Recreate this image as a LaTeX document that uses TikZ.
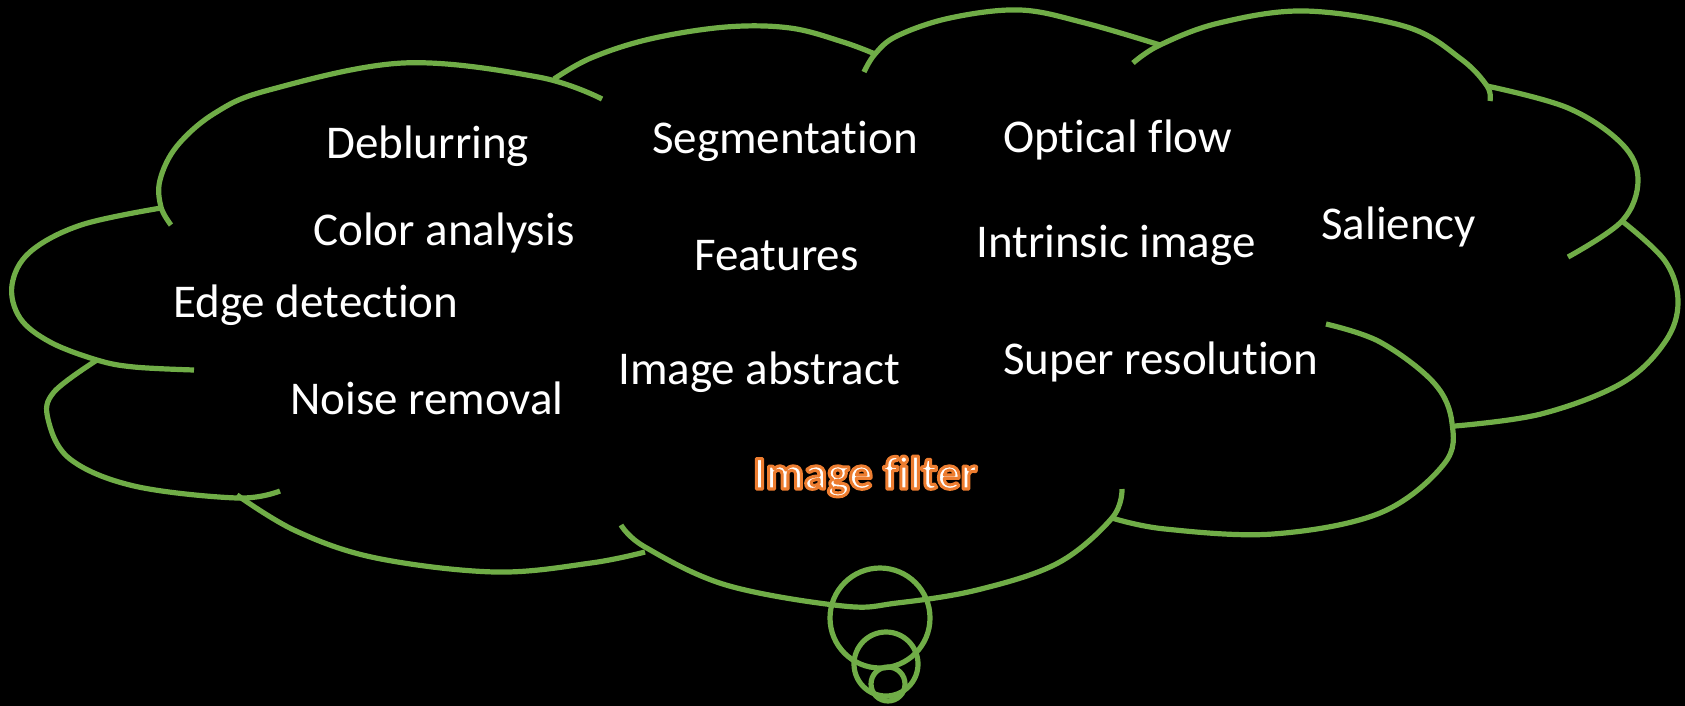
\documentclass[tikz,border=0pt]{standalone}
\usepackage{fontspec}
\setmainfont{Carlito}[Ligatures={NoCommon,NoRare}]
\definecolor{cloudgreen}{HTML}{70AD47}
\definecolor{filterorange}{HTML}{ED7D31}
\tikzset{
  lobe/.style={draw=cloudgreen,line width=5.2pt,smooth,tension=0.6},
  bubble/.style={draw=cloudgreen,line width=5.2pt},
  lbl/.style={text=white,anchor=base west,inner sep=0pt,font=\fontsize{47}{56}\selectfont},
}
\newcommand{\outlinedtext}[1]{\textcolor{white}{\special{pdf:literal direct 0.93 0.49 0.19 RG 3 w 1 j 2 Tr}#1\special{pdf:literal direct 0 Tr}}}
\begin{document}
\begin{tikzpicture}[x=1pt,y=-1pt]
\fill[black] (0,0) rectangle (1685,706);
\useasboundingbox (0,0) rectangle (1685,706);
% cloud lobes
\draw[lobe] plot coordinates {(171,225) (161,207) (160,180) (177,146) (215,113) (269,90) (403,63) (538,77) (602,99)};
\draw[lobe] plot coordinates {(554,79) (591,58) (650,39) (726,27) (790,28) (843,42) (875,54)};
\draw[lobe] plot coordinates {(864,72) (875,54) (897,36) (950,18) (1020,10) (1085,23) (1160,45)};
\draw[lobe] plot coordinates {(1133,63) (1160,45) (1219,23) (1305,11) (1407,27) (1461,59) (1487,86) (1490,101)};
\draw[lobe] plot coordinates {(1487,86) (1568,108) (1622,144) (1638,180) (1622,221) (1568,257)};
\draw[lobe] plot coordinates {(1622,221) (1665,261) (1678,302) (1665,342) (1622,383) (1541,414) (1455,426)};
\draw[lobe] plot coordinates {(1326,324) (1380,342) (1434,383) (1452,423) (1444,464) (1380,513) (1273,534) (1165,529) (1112,518)};
\draw[lobe] plot coordinates {(621,525) (645,547) (726,585) (843,606) (897,603) (977,590) (1058,563) (1112,518) (1122,489)};
\draw[lobe] plot coordinates {(237,495) (296,531) (376,558) (495,572) (591,563) (645,552)};
\draw[lobe] plot coordinates {(97,360) (54,392) (48,419) (70,459) (134,486) (237,498) (280,491)};
\draw[lobe] plot coordinates {(161,208) (81,225) (30,252) (12,285) (20,318) (50,342) (97,360) (134,367) (194,370)};
% thought bubbles
\draw[bubble] (880,618) circle[radius=50];
\draw[bubble] (886,664) circle[radius=32];
\draw[bubble] (888,684) circle[radius=17];
% labels
\node[lbl] (deblur) at (326,158) {Deblurring};
\node[lbl] (color) at (313,245) {Color analysis};
\node[lbl] (edge) at (173,317) {Edge detection};
\node[lbl] (noise) at (290,414) {Noise removal};
\node[lbl] (seg) at (652,153) {Segmentation};
\node[lbl] (feat) at (694,270) {Features};
\node[lbl] (abs) at (618,384) {Image abstract};
\node[lbl] (optic) at (1003,152) {Optical flow};
\node[lbl] (intr) at (976,257) {Intrinsic image};
\node[lbl] (sal) at (1321,239) {Saliency};
\node[lbl] (super) at (1003,374) {Super resolution};
\node[anchor=base west,inner sep=0pt,font=\fontsize{47}{56}\selectfont\bfseries] (filter) at (753,489) {\outlinedtext{Image filter}};
\end{tikzpicture}
\end{document}
